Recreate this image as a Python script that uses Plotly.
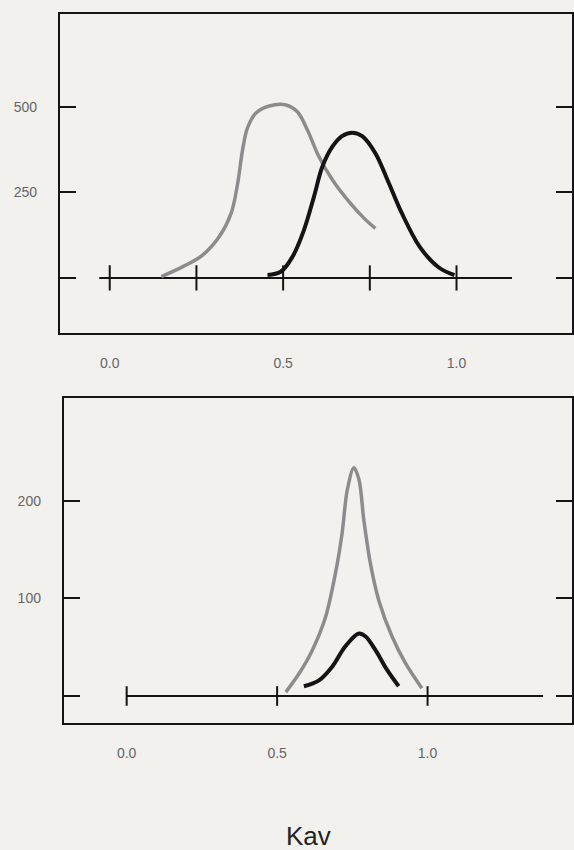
import plotly.graph_objects as go

# ---- data ----
top_gray_kav = [0.149, 0.211, 0.268, 0.316, 0.350, 0.369, 0.383, 0.397, 0.421, 0.460, 0.508, 0.541, 0.570, 0.603, 0.642, 0.690, 0.733, 0.766]
top_gray_val = [4, 33, 67, 121, 189, 277, 374, 438, 482, 503, 506, 486, 433, 355, 287, 223, 175, 145]
top_black_kav = [0.455, 0.493, 0.527, 0.560, 0.589, 0.613, 0.642, 0.670, 0.699, 0.728, 0.766, 0.805, 0.842, 0.894, 0.947, 0.994]
top_black_val = [9, 18, 62, 140, 238, 325, 384, 415, 425, 415, 365, 277, 190, 91, 32, 8]
bot_gray_kav = [0.529, 0.573, 0.617, 0.661, 0.694, 0.716, 0.733, 0.755, 0.772, 0.788, 0.810, 0.838, 0.882, 0.926, 0.981]
bot_gray_val = [4, 23, 47, 81, 126, 167, 211, 234, 222, 181, 136, 98, 61, 34, 8]
bot_black_kav = [0.589, 0.639, 0.683, 0.727, 0.772, 0.794, 0.827, 0.865, 0.904]
bot_black_val = [10, 16, 30, 51, 64, 61, 47, 27, 10]

top_base_range = [-0.03, 1.16]
top_base_ticks = [0.0, 0.25, 0.5, 0.75, 1.0]
bot_base_range = [0.0, 1.384]
bot_base_ticks = [0.0, 0.5, 1.0]

x_tickvals = [0.0, 0.5, 1.0]
x_ticktext = ["0.0", "0.5", "1.0"]
top_y_tickvals = [0, 250, 500]
top_y_ticktext = ["", "250", "500"]
bot_y_tickvals = [0, 100, 200]
bot_y_ticktext = ["", "100", "200"]

GRAY = "#8c8c8c"
BLACK = "#141414"
BG = "#f2f1ed"

fig = go.Figure()

# top panel
fig.add_trace(go.Scatter(x=top_base_range, y=[0, 0], mode="lines",
                         line=dict(color=BLACK, width=2), xaxis="x", yaxis="y", hoverinfo="skip"))
fig.add_trace(go.Scatter(x=top_base_ticks, y=[0] * len(top_base_ticks), mode="markers",
                         marker=dict(symbol="line-ns", size=18, line=dict(color=BLACK, width=2)),
                         xaxis="x", yaxis="y"))
fig.add_trace(go.Scatter(x=top_gray_kav, y=top_gray_val, mode="lines",
                         line=dict(color=GRAY, width=3.5, shape="spline", smoothing=1.0),
                         xaxis="x", yaxis="y"))
fig.add_trace(go.Scatter(x=top_black_kav, y=top_black_val, mode="lines",
                         line=dict(color=BLACK, width=4, shape="spline", smoothing=1.0),
                         xaxis="x", yaxis="y"))

# bottom panel
fig.add_trace(go.Scatter(x=bot_base_range, y=[0, 0], mode="lines",
                         line=dict(color=BLACK, width=2), xaxis="x2", yaxis="y2", hoverinfo="skip"))
fig.add_trace(go.Scatter(x=bot_base_ticks, y=[0] * len(bot_base_ticks), mode="markers",
                         marker=dict(symbol="line-ns", size=14, line=dict(color=BLACK, width=2)),
                         xaxis="x2", yaxis="y2"))
fig.add_trace(go.Scatter(x=bot_gray_kav, y=bot_gray_val, mode="lines",
                         line=dict(color=GRAY, width=3.5, shape="spline", smoothing=0.9),
                         xaxis="x2", yaxis="y2"))
fig.add_trace(go.Scatter(x=bot_black_kav, y=bot_black_val, mode="lines",
                         line=dict(color=BLACK, width=4, shape="spline", smoothing=1.0),
                         xaxis="x2", yaxis="y2"))

W, H = 574, 850
tickfont = dict(family="Liberation Sans, Arial, sans-serif", size=14, color="#666666")

common_x = dict(showgrid=False, zeroline=False, showline=True, linecolor=BLACK, linewidth=2,
                mirror=True, ticks="", tickvals=x_tickvals, ticktext=x_ticktext,
                tickfont=tickfont, ticklabelstandoff=16)
common_y = dict(showgrid=False, zeroline=False, showline=True, linecolor=BLACK, linewidth=2,
                mirror="ticks", ticks="inside", ticklen=16, tickwidth=2, tickcolor=BLACK,
                tickfont=tickfont, ticklabelstandoff=18)

fig.update_layout(
    width=W, height=H,
    margin=dict(l=0, r=0, t=0, b=0),
    paper_bgcolor=BG, plot_bgcolor=BG,
    showlegend=False,
    xaxis=dict(domain=[60 / W, 1.0], range=[-0.144, 1.333], anchor="y", **common_x),
    yaxis=dict(domain=[1 - 333 / H, 1 - 14 / H], range=[-161, 772], anchor="x",
               tickvals=top_y_tickvals, ticktext=top_y_ticktext, **common_y),
    xaxis2=dict(domain=[64 / W, 1.0], range=[-0.209, 1.48], anchor="y2", **common_x),
    yaxis2=dict(domain=[1 - 723 / H, 1 - 398 / H], range=[-27.7, 305.6], anchor="x2",
                tickvals=bot_y_tickvals, ticktext=bot_y_ticktext, **common_y),
    annotations=[dict(text="Kav", x=310 / W, y=1 - 836 / H, xref="paper", yref="paper",
                      xanchor="center", yanchor="middle",
                      showarrow=False, font=dict(family="Liberation Sans, Arial, sans-serif",
                                                 size=26, color="#222222"))],
)

fig.write_html("out.html")
